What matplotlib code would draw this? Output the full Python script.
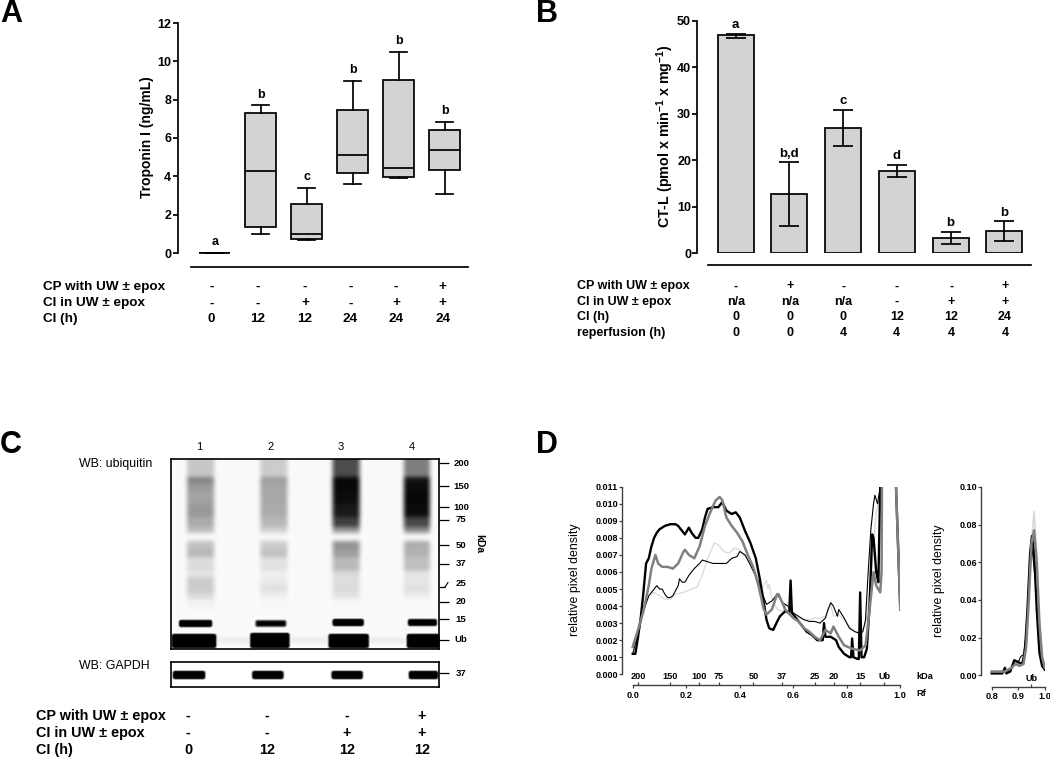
import numpy as np
import matplotlib
matplotlib.use("Agg")
import matplotlib.pyplot as plt

plt.rcParams['font.family'] = ['Liberation Sans', 'DejaVu Sans']
plt.rcParams['mathtext.fontset'] = 'custom'
plt.rcParams['mathtext.rm'] = 'Liberation Sans'
plt.rcParams['mathtext.bf'] = 'Liberation Sans:bold'

W, H = 1050, 758
FILL = '#d3d3d3'
LW = 1.25

# ── Panel A: troponin boxes ────────────────────────────────────────────────────
a_whishi = [0, 7.7, 3.4, 9.0, 10.5, 6.85]
a_q3     = [0, 7.3, 2.55, 7.45, 9.05, 6.4]
a_med    = [0, 4.3, 1.0, 5.1, 4.45, 5.4]
a_q1     = [0, 1.35, 0.75, 4.15, 3.95, 4.35]
a_whislo = [0, 1.0, 0.7, 3.6, 3.9, 3.1]
a_sig    = ['a', 'b', 'c', 'b', 'b', 'b']
a_table  = [('CP with UW ± epox', ['-', '-', '-', '-', '-', '+']),
            ('CI in UW ± epox',   ['-', '-', '+', '-', '+', '+']),
            ('CI (h)',            ['0', '12', '12', '24', '24', '24'])]

# ── Panel B: CT-L bars ─────────────────────────────────────────────────────────
b_vals = [46.9, 12.8, 27.0, 17.7, 3.2, 4.7]
b_low  = [46.3, 5.9, 23.0, 16.4, 1.9, 2.6]
b_high = [47.2, 19.5, 30.8, 19.0, 4.5, 6.8]
b_sig  = ['a', 'b,d', 'c', 'd', 'b', 'b']
b_table = [('CP with UW ± epox', ['-', '+', '-', '-', '-', '+']),
           ('CI in UW ± epox',   ['n/a', 'n/a', 'n/a', '-', '+', '+']),
           ('CI (h)',            ['0', '0', '0', '12', '12', '24']),
           ('reperfusion (h)',   ['0', '0', '4', '4', '4', '4'])]

# ── Panel C: blot, darkness per lane (0 white, 1 black) in rows from blot top ──
smear_edges = [0, 18, 24, 32, 45, 58, 68, 74, 82, 90, 98, 112, 118, 126, 134, 140, 150]
lane_spans  = [(16, 43), (89, 116), (161, 188), (232, 258)]
lane1 = [.22, .48, .40, .36, .40, .33, .25, .03, .24, .28, .14, .10, .20, .20, .15, .05]
lane2 = [.20, .38, .35, .34, .33, .28, .18, .03, .20, .24, .12, .06, .08, .12, .06, .03]
lane3 = [.70, .97, .97, .95, .90, .75, .40, .03, .42, .38, .27, .15, .13, .14, .11, .03]
lane4 = [.50, .92, .95, .97, .95, .72, .45, .03, .32, .30, .25, .10, .10, .12, .07, .02]
band15_spans = [(8, 41), (84, 115), (161, 192), (236, 265)]
band15_rows  = [(161, 168), (161, 168), (160, 167), (160, 167)]
band15_dark  = [.95, .75, 1.0, .9]
ub_spans = [(1, 45), (79, 118), (157, 197), (235, 268)]
ub_rows  = [(175, 189), (174, 189), (175, 189), (175, 189)]
ub_gaps  = [(45, 79), (118, 157), (197, 235)]
gapdh_spans = [(2, 34), (81, 112), (160, 191), (237, 266)]
blot_kda    = ['200', '150', '100', '75', '50', '37', '25', '20', '15', 'Ub']
blot_ticks  = [4, 27, 48, 61, 86, 105, 128, 143, 160, 181]
c_lanes = ['1', '2', '3', '4']
c_table = [('CP with UW ± epox', ['-', '-', '-', '+']),
           ('CI in UW ± epox',   ['-', '-', '+', '+']),
           ('CI (h)',            ['0', '12', '12', '12'])]

# ── Panel D: densitometry, (Rf, density) ───────────────────────────────────────
d_kda_pos = [.021, .14, .248, .323, .451, .557, .682, .751, .850, .94]
d_kda_lab = ['200', '150', '100', '75', '50', '37', '25', '20', '15', 'Ub']

thick_rf = [0, .01, .02, .03, .04, .05, .06, .07, .08, .09, .10, .12, .14, .16, .17, .18, .195, .21, .22, .235,
            .245, .26, .27, .28, .30, .32, .335, .35, .37, .385, .40, .42, .44, .46, .475, .49, .50, .51, .525,
            .54, .55, .57, .585, .59, .595, .61, .63, .65, .67, .69, .71, .715, .72, .74, .76, .77, .79, .81, .816,
            .82, .825, .84, .845, .85, .855, .865, .875, .885, .895, .90, .91, .918, .925, .94, .952, .97, .984, 1.0]
thick_y  = [.0012, .0012, .0022, .0033, .0048, .0065, .0068, .0075, .0080, .0083, .0085, .0087, .0088, .0088, .0087,
            .0085, .0082, .0086, .0083, .0080, .0080, .0085, .0092, .0097, .0098, .0098, .0101, .0096, .0094, .0095,
            .0092, .0084, .0077, .0068, .0056, .0042, .0032, .0027, .0026, .0031, .0034, .0037, .0036, .0055, .0036,
            .0033, .0029, .0025, .0023, .0020, .0020, .0030, .0022, .0022, .0020, .0016, .0012, .0010, .0010, .0021,
            .0010, .0009, .0009, .0048, .0010, .0010, .0015, .0040, .0082, .0080, .0060, .0054, .0110, .0400, .0740,
            .0350, .0110, .0038]

thin_rf = [0, .02, .04, .06, .07, .08, .09, .10, .11, .12, .13, .14, .15, .16, .17, .175, .185, .195, .21, .23, .25,
           .26, .28, .30, .32, .35, .37, .39, .40, .41, .42, .43, .44, .47, .49, .50, .51, .52, .54, .56, .58, .60,
           .62, .64, .66, .68, .70, .72, .73, .74, .75, .76, .765, .77, .79, .81, .83, .85, .86, .87, .88, .89, .90,
           .905, .915, .925, .94, .952, .97, .984, 1.0]
thin_y  = [.0012, .0024, .0037, .0046, .0048, .0050, .0052, .0050, .0050, .0047, .0045, .0045, .0046, .0049, .0052,
           .0056, .0054, .0054, .0058, .0062, .0065, .0067, .0066, .0065, .0065, .0065, .0068, .0069, .0072, .0071,
           .0070, .0067, .0064, .0054, .0045, .0041, .0042, .0043, .0047, .0042, .0040, .0036, .0034, .0032, .0031,
           .0031, .0030, .0033, .0038, .0042, .0040, .0036, .0034, .0038, .0033, .0027, .0025, .0024, .0025, .0032,
           .0060, .0085, .0100, .0105, .0100, .0110, .0400, .0680, .0350, .0110, .0038]

light_rf = [0, .02, .04, .06, .08, .10, .12, .14, .16, .19, .22, .24, .26, .28, .30, .305, .32, .34, .36, .38, .40,
            .42, .44, .46, .48, .50, .505, .51, .52, .54, .56, .58, .60, .62, .64, .66, .68, .70, .72, .74, .75,
            .77, .79, .81, .84, .87, .89, .91, .925, .94, .96, .975, .984, 1.0]
light_y  = [.0018, .0027, .0038, .0046, .0048, .0046, .0044, .0044, .0047, .0048, .0050, .0051, .0058, .0068, .0075,
            .0077, .0076, .0072, .0071, .0074, .0073, .0069, .0065, .0060, .0050, .0055, .0050, .0053, .0045, .0038,
            .0037, .0042, .0035, .0033, .0032, .0032, .0033, .0033, .0034, .0041, .0034, .0035, .0032, .0028, .0024,
            .0028, .0055, .0095, .0105, .0400, .0870, .0350, .0110, .0038]

mid_rf = [0, .02, .04, .06, .07, .085, .095, .11, .13, .15, .17, .19, .195, .21, .23, .25, .27, .29, .31, .325, .335,
          .35, .37, .39, .41, .43, .45, .47, .49, .50, .52, .54, .545, .57, .60, .62, .64, .66, .68, .70, .72, .74,
          .75, .77, .79, .82, .85, .87, .88, .89, .90, .91, .925, .93, .94, .96, .975, .984, 1.0]
mid_y  = [.0016, .0026, .0037, .0052, .0062, .0070, .0065, .0063, .0063, .0062, .0065, .0072, .0073, .0070, .0068,
          .0075, .0087, .0095, .0102, .0104, .0102, .0092, .0087, .0083, .0078, .0070, .0063, .0052, .0038, .0035,
          .0038, .0047, .0047, .0038, .0033, .0031, .0027, .0025, .0022, .0020, .0026, .0024, .0028, .0022, .0017,
          .0015, .0014, .0017, .0030, .0045, .0060, .0052, .0048, .0060, .0400, .0770, .0350, .0110, .0038]

# zoomed Ub peak
ub_thick_rf = [.80, .84, .85, .855, .87, .885, .90, .915, .925, .935, .945, .952, .96, .97, .98, .99, 1.0]
ub_thick_y  = [.001, .001, .004, .001, .002, .008, .007, .006, .012, .035, .065, .074, .065, .035, .012, .005, .003]
ub_thin_rf  = [.80, .84, .86, .875, .89, .90, .91, .92, .93, .94, .952, .965, .975, .985, 1.0]
ub_thin_y   = [.002, .002, .002, .004, .008, .007, .010, .011, .022, .050, .068, .050, .025, .009, .004]
ub_light_rf = [.80, .85, .875, .89, .91, .925, .94, .95, .96, .97, .98, .99, 1.0]
ub_light_y  = [.002, .002, .004, .006, .006, .010, .040, .070, .087, .065, .030, .010, .004]
ub_mid_rf   = [.80, .85, .875, .89, .905, .92, .93, .94, .95, .96, .97, .98, .99, 1.0]
ub_mid_y    = [.002, .002, .004, .006, .005, .006, .015, .040, .070, .077, .060, .028, .010, .004]


def px_axes(fig, left, top, right, bottom):
    ax = fig.add_axes([left / W, 1 - bottom / H, (right - left) / W, (bottom - top) / H])
    ax.patch.set_alpha(0)
    return ax


def ftext(fig, x, y, s, **kw):
    kw.setdefault('va', 'center')
    kw.setdefault('ha', 'left')
    return fig.text(x / W, 1 - y / H, s, **kw)


def draw_table(fig, rows, label_x, value_x, row_y, size):
    for (label, vals), y in zip(rows, row_y):
        ftext(fig, label_x, y, label, fontsize=size, fontweight='bold')
        for x, v in zip(value_x, vals):
            ftext(fig, x, y, v, fontsize=size, fontweight='bold', ha='center')


def style_bar_axis(ax, offset_px, x0, x1):
    for s in ('top', 'right'):
        ax.spines[s].set_visible(False)
    for s in ('left', 'bottom'):
        ax.spines[s].set_linewidth(LW)
    ax.spines['bottom'].set_position(('outward', offset_px * 0.72))
    ax.spines['bottom'].set_bounds(x0, x1)
    ax.set_xticks([])
    ax.tick_params(axis='y', length=3.5, width=LW, pad=1, labelsize=9)
    for t in ax.get_yticklabels():
        t.set_fontweight('bold')


def blur(img, size, passes=2):
    kernel = np.ones(size) / size
    for _ in range(passes):
        img = np.apply_along_axis(lambda v: np.convolve(v, kernel, mode='same'), 0, img)
        img = np.apply_along_axis(lambda v: np.convolve(v, kernel, mode='same'), 1, img)
    return img


fig = plt.figure(figsize=(W / 100, H / 100), dpi=100)

# ── A ──
ax = px_axes(fig, 177.5, 23, 468, 253)
a_step = 46.0
ax.set_xlim((177.5 - 214.7) / a_step, (468 - 214.7) / a_step)
ax.set_ylim(0, 12)
stats = [dict(med=m, q1=q1, q3=q3, whislo=lo, whishi=hi, fliers=[])
         for m, q1, q3, lo, hi in zip(a_med, a_q1, a_q3, a_whislo, a_whishi)]
line = dict(color='k', linewidth=LW)
ax.bxp(stats, positions=range(6), widths=31 / a_step, capwidths=17 / a_step, patch_artist=True, manage_ticks=False,
       boxprops=dict(facecolor=FILL, edgecolor='k', linewidth=LW), medianprops=line, whiskerprops=line,
       capprops=line, showfliers=False)
for patch_line in ax.lines:
    patch_line.set_clip_on(False)
ax.set_yticks(range(0, 13, 2))
style_bar_axis(ax, 14, (191 - 214.7) / a_step, (468 - 214.7) / a_step)
for i, (hi, s) in enumerate(zip(a_whishi, a_sig)):
    ax.annotate(s, (i, hi), xytext=(0, 3.5), textcoords='offset points', ha='center', va='bottom',
                fontsize=9, fontweight='bold')
ftext(fig, 146.5, 137, 'Troponin I (ng/mL)', fontsize=10, fontweight='bold', rotation=90, ha='center')
draw_table(fig, a_table, 43.3, [211.3, 257.7, 305, 350.3, 396, 442.7], [287, 303.3, 319.3], 9.7)

# ── B ──
ax = px_axes(fig, 697.3, 20.7, 1031, 253)
b_step = 53.7
ax.set_xlim((697.3 - 735.7) / b_step, (1031 - 735.7) / b_step)
ax.set_ylim(0, 50)
xs = np.arange(6)
ax.bar(xs, b_vals, width=36 / b_step, color=FILL, edgecolor='k', linewidth=LW)
ax.errorbar(xs, b_vals, yerr=[np.array(b_vals) - b_low, np.array(b_high) - b_vals], fmt='none', ecolor='k',
            elinewidth=LW, capsize=7.2, capthick=LW)
ax.set_yticks(range(0, 51, 10))
style_bar_axis(ax, 12.3, (708 - 735.7) / b_step, (1031 - 735.7) / b_step)
for i, (hi, s) in enumerate(zip(b_high, b_sig)):
    ax.annotate(s, (i, hi), xytext=(0, 2), textcoords='offset points', ha='center', va='bottom',
                fontsize=9.5, fontweight='bold')
ftext(fig, 665.5, 136, r'CT-L (pmol x min$^{\mathbf{-1}}$ x mg$^{\mathbf{-1}}$)', fontsize=10.3, fontweight='bold',
      rotation=90, ha='center')
draw_table(fig, b_table, 577.3, [735.7, 789.7, 843.3, 896.7, 951.3, 1005], [286.3, 301.7, 317.3, 333.3], 9)

# ── C ──
smear = np.full((190, 268), 0.02)
for (x0, x1), dark in zip(lane_spans, [lane1, lane2, lane3, lane4]):
    for j, d in enumerate(dark):
        smear[smear_edges[j]:smear_edges[j + 1], x0:x1] = d
for x0, x1 in ub_gaps:
    smear[180:183, x0:x1] = 0.12
bands = np.zeros((190, 268))
for (x0, x1), (r0, r1), d in zip(band15_spans, band15_rows, band15_dark):
    bands[r0:r1, x0:x1] = d
for (x0, x1), (r0, r1) in zip(ub_spans, ub_rows):
    bands[r0:r1, x0:x1] = 1.0
# top edge of the lanes stays sharp in the scan, so pad by reflecting before the blur
smear = blur(np.vstack([smear[:8][::-1], smear]), 5)[8:]
bands = np.clip(blur(bands, 3) * 1.7 - 0.25, 0, 1)
blot = np.maximum(smear, bands)

ax = px_axes(fig, 171, 459, 439, 649)
ax.imshow(blot, cmap='gray_r', vmin=0, vmax=1, aspect='auto', extent=(0, 268, 190, 0), interpolation='bilinear')
ax.set_xticks([])
ax.yaxis.tick_right()
ax.set_yticks(blot_ticks)
ax.set_yticklabels([])
ax.tick_params(axis='y', length=7, width=0.9)
ax.yaxis.get_major_ticks()[6].tick2line.set_markersize(4.2)
for s in ax.spines.values():
    s.set_linewidth(1.2)
for t, lab in zip(blot_ticks, blot_kda):
    shift = -4 if lab == '25' else 0
    ax.annotate(lab, (1, t + shift), xycoords=('axes fraction', 'data'), xytext=(16, 0), textcoords='offset points',
                ha='center', va='center', fontsize=6.8, fontweight='bold')
ax.plot([274, 277], [128, 123.5], color='k', lw=0.8, clip_on=False)
ax.set_xlim(0, 268)
ax.set_ylim(190, 0)
ftext(fig, 479, 544, 'kDa', fontsize=7.5, fontweight='bold', rotation=-90, ha='center')

gapdh = np.zeros((26, 268))
for x0, x1 in gapdh_spans:
    gapdh[10:18, x0:x1] = 1.0
gapdh = np.clip(blur(gapdh, 3) * 1.7 - 0.25, 0, 1)
ax = px_axes(fig, 171, 661.5, 439, 687)
ax.imshow(gapdh, cmap='gray_r', vmin=0, vmax=1, aspect='auto', extent=(0, 268, 26, 0), interpolation='bilinear')
ax.set_xticks([])
ax.yaxis.tick_right()
ax.set_yticks([12])
ax.set_yticklabels([])
ax.tick_params(axis='y', length=7, width=0.9)
for s in ax.spines.values():
    s.set_linewidth(1.2)
ax.annotate('37', (1, 12), xycoords=('axes fraction', 'data'), xytext=(16, 0), textcoords='offset points',
            ha='center', va='center', fontsize=6.8, fontweight='bold')

for x, s in zip([199, 270.7, 340.7, 412.3], c_lanes):
    ftext(fig, x, 447.5, s, fontsize=8, ha='center')
ftext(fig, 79, 464, 'WB: ubiquitin', fontsize=8.9)
ftext(fig, 79, 665.7, 'WB: GAPDH', fontsize=8.9)
draw_table(fig, c_table, 36, [188, 267, 346.7, 421.7], [715.7, 733, 750], 10.4)

# ── D left ──
ax = px_axes(fig, 621.7, 486.7, 900.3, 674.3)
ax.set_xlim(-11 / 267.6, 1.0)
ax.set_ylim(0, 0.011)
ax.plot(light_rf, light_y, color='#d9d9d9', lw=0.9)
ax.plot(thin_rf, thin_y, color='k', lw=0.8)
ax.plot(thick_rf, thick_y, color='k', lw=1.7)
ax.plot(mid_rf, mid_y, color='#808080', lw=1.8)


def style_density(ax, axis_y, rf_ticks, rf_fmt, kda_pos, kda_lab, x0):
    for s in ('top', 'right'):
        ax.spines[s].set_visible(False)
    ax.spines['left'].set_linewidth(1.0)
    ax.spines['left'].set_color('#404040')
    frac = -axis_y / ax.get_window_extent().height
    ax.spines['bottom'].set_position(('axes', frac))
    ax.spines['bottom'].set_bounds(x0, 1.0)
    ax.spines['bottom'].set_linewidth(1.0)
    ax.spines['bottom'].set_color('#404040')
    ax.set_xticks(rf_ticks)
    ax.set_xticklabels([rf_fmt.format(t) for t in rf_ticks], fontsize=6.6, fontweight='bold')
    ax.tick_params(axis='x', length=2.5, width=0.9, pad=1.5, color='#404040')
    ax.tick_params(axis='y', length=2, width=0.9, pad=0.5, labelsize=6.5, color='#404040')
    for t in ax.get_yticklabels():
        t.set_fontweight('bold')
    sec = ax.secondary_xaxis(frac)
    sec.xaxis.tick_top()
    sec.set_xticks(kda_pos)
    sec.set_xticklabels(kda_lab, fontsize=6.6, fontweight='bold')
    sec.tick_params(axis='x', length=2.5, width=0.9, pad=0.5, color='#404040')
    for s in sec.spines.values():
        s.set_visible(False)


ax.set_yticks(np.arange(0, 12) * 0.001)
ax.set_yticklabels([f'{v * 0.001:.3f}' for v in range(12)])
style_density(ax, 11, [0, .2, .4, .6, .8, 1.0], '{:.1f}', d_kda_pos, d_kda_lab, 0.0)
ftext(fig, 575, 580, 'relative pixel density', fontsize=8.9, rotation=90, ha='center')
ftext(fig, 916, 676.5, 'kDa', fontsize=6.6, fontweight='bold')
ftext(fig, 916, 694, 'Rf', fontsize=6.6, fontweight='bold')

# ── D right ──
ax = px_axes(fig, 981, 487, 1044.7, 675.3)
ax.set_xlim(.8 - 10.7 / 265, 1.0)
ax.set_ylim(0, 0.10)
ax.plot(ub_light_rf, ub_light_y, color='#d9d9d9', lw=1.2)
ax.plot(ub_thin_rf, ub_thin_y, color='k', lw=0.8)
ax.plot(ub_thick_rf, ub_thick_y, color='k', lw=1.7)
ax.plot(ub_mid_rf, ub_mid_y, color='#808080', lw=1.8)
ax.set_yticks(np.arange(0, 6) * 0.02)
ax.set_yticklabels([f'{v * 0.02:.2f}' for v in range(6)])
style_density(ax, 11.4, [.8, .9, 1.0], '{:.1f}', [.95], ['Ub'], .8)
ftext(fig, 939, 581, 'relative pixel density', fontsize=8.9, rotation=90, ha='center')

# ── Panel letters ──
for s, x, y in [('A', 0, 22), ('B', 536, 22), ('C', 0, 453), ('D', 536, 453)]:
    ftext(fig, x, y, s, fontsize=22, fontweight='bold', va='baseline')

fig.savefig('out.png', dpi=100)
